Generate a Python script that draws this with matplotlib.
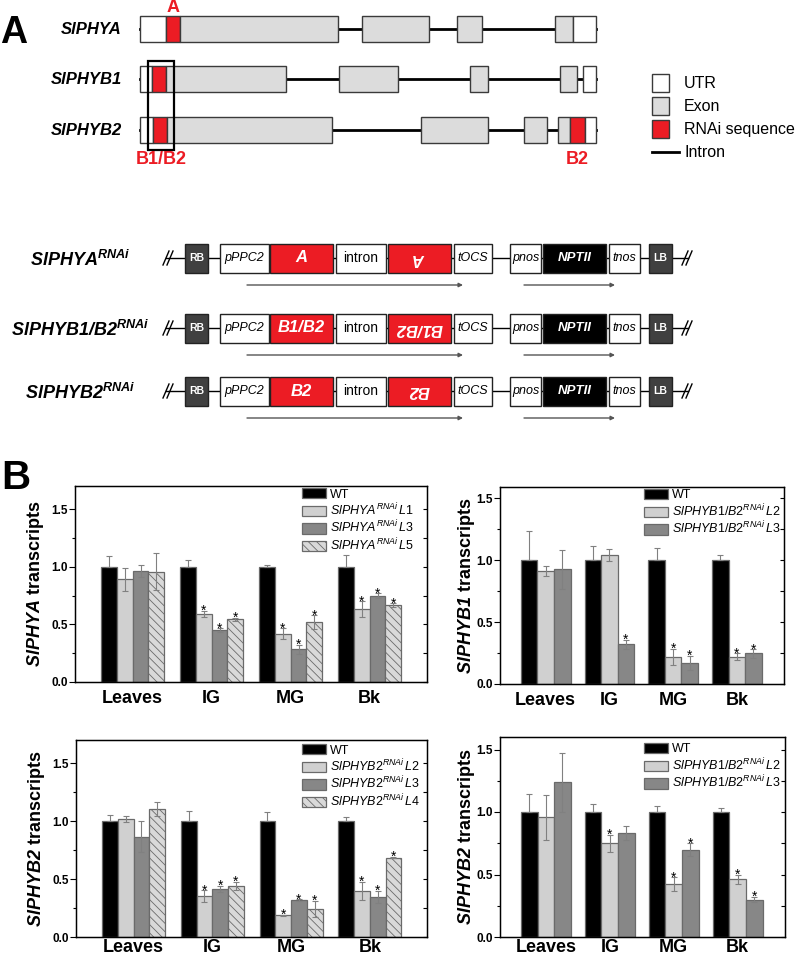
import numpy as np
import matplotlib
matplotlib.use("Agg")
import matplotlib.pyplot as plt
from matplotlib.patches import Rectangle
from matplotlib.ticker import MultipleLocator, FormatStrFormatter

plt.rcParams['font.family'] = ['Liberation Sans', 'DejaVu Sans']
plt.rcParams['mathtext.fontset'] = 'custom'
plt.rcParams['mathtext.rm'] = 'Liberation Sans'
plt.rcParams['mathtext.it'] = 'Liberation Sans:italic'
plt.rcParams['mathtext.bf'] = 'Liberation Sans:bold'
plt.rcParams['mathtext.bfit'] = 'Liberation Sans:italic:bold'
plt.rcParams['hatch.linewidth'] = 0.6

RED = '#ec1c24'
EDGE = '#6a6a6a'
ERR = '#808080'

# ---------------- panel A: gene structures (pixel layout) ----------------
genes = ['SlPHYA', 'SlPHYB1', 'SlPHYB2']
gene_y = [29, 79, 130]
gene_segments = [
    [(140, 166, 'utr'), (166, 180, 'rnai'), (180, 338, 'exon'), (362, 429, 'exon'),
     (457, 482, 'exon'), (555, 573, 'exon'), (573, 596, 'utr')],
    [(140, 152, 'utr'), (152, 166, 'rnai'), (166, 286, 'exon'), (339, 398, 'exon'),
     (470, 488, 'exon'), (560, 577, 'exon'), (583, 596, 'utr')],
    [(140, 153, 'utr'), (153, 167, 'rnai'), (167, 332, 'exon'), (421, 488, 'exon'),
     (524, 547, 'exon'), (558, 570, 'exon'), (570, 585, 'rnai'), (585, 596, 'utr')],
]
seg_colors = {'utr': 'white', 'exon': '#dcdcdc', 'rnai': RED}
legendA = ['UTR', 'Exon', 'RNAi sequence', 'Intron']

constructs = [r'$\mathbfit{SlPHYA}^{\mathbfit{RNAi}}$',
              r'$\mathbfit{SlPHYB1/B2}^{\mathbfit{RNAi}}$',
              r'$\mathbfit{SlPHYB2}^{\mathbfit{RNAi}}$']
construct_y = [258, 328, 391]
inserts = ['A', 'B1/B2', 'B2']

# ---------------- panel B: qPCR data ----------------
tissues = ['Leaves', 'IG', 'MG', 'Bk']

phya_labels = ['WT', r'$\mathit{SlPHYA}^{RNAi}\mathit{\,L1}$',
               r'$\mathit{SlPHYA}^{RNAi}\mathit{\,L3}$', r'$\mathit{SlPHYA}^{RNAi}\mathit{\,L5}$']
phya_vals = [[1.0, 1.0, 1.0, 1.0],
             [0.89, 0.59, 0.42, 0.63],
             [0.965, 0.45, 0.285, 0.75],
             [0.955, 0.545, 0.52, 0.668]]
phya_err = [[0.09, 0.06, 0.017, 0.105],
            [0.10, 0.03, 0.045, 0.07],
            [0.05, 0.015, 0.04, 0.02],
            [0.16, 0.012, 0.06, 0.015]]
phya_sig = [[0, 0, 0, 0], [0, 1, 1, 1], [0, 1, 1, 1], [0, 1, 1, 1]]

phyb1_labels = ['WT', r'$\mathit{SlPHYB1/B2}^{RNAi}\mathit{\,L2}$',
                r'$\mathit{SlPHYB1/B2}^{RNAi}\mathit{\,L3}$']
phyb1_vals = [[1.0, 1.0, 1.0, 1.0],
              [0.91, 1.04, 0.22, 0.22],
              [0.925, 0.32, 0.17, 0.247]]
phyb1_err = [[0.234, 0.11, 0.10, 0.04],
             [0.04, 0.05, 0.065, 0.027],
             [0.16, 0.035, 0.06, 0.034]]
phyb1_sig = [[0, 0, 0, 0], [0, 0, 1, 1], [0, 1, 1, 1]]

phyb2_labels = ['WT', r'$\mathit{SlPHYB2}^{RNAi}\mathit{\,L2}$',
                r'$\mathit{SlPHYB2}^{RNAi}\mathit{\,L3}$', r'$\mathit{SlPHYB2}^{RNAi}\mathit{\,L4}$']
phyb2_vals = [[1.0, 1.0, 1.0, 1.0],
              [1.017, 0.352, 0.186, 0.395],
              [0.865, 0.413, 0.318, 0.344],
              [1.103, 0.441, 0.24, 0.685]]
phyb2_err = [[0.057, 0.086, 0.077, 0.034],
             [0.023, 0.05, 0.005, 0.08],
             [0.135, 0.027, 0.006, 0.052],
             [0.06, 0.033, 0.07, 0.005]]
phyb2_sig = [[0, 0, 0, 0], [0, 1, 1, 1], [0, 1, 1, 1], [0, 1, 1, 1]]

b1b2_labels = phyb1_labels
b1b2_vals = [[1.0, 1.0, 1.0, 1.0],
             [0.96, 0.75, 0.422, 0.462],
             [1.237, 0.83, 0.70, 0.30]]
b1b2_err = [[0.142, 0.065, 0.05, 0.032],
            [0.18, 0.066, 0.056, 0.035],
            [0.235, 0.056, 0.05, 0.02]]
b1b2_sig = [[0, 0, 0, 0], [0, 1, 1, 1], [0, 0, 1, 1]]

styles4 = [dict(fc='black'), dict(fc='#d0d0d0'), dict(fc='#878787'),
           dict(fc='#d9d9d9', hatch='\\\\\\\\')]

W, H = 800, 958
fig = plt.figure(figsize=(W / 100, H / 100), dpi=100)

# ================= panel A drawn in pixel coordinates =================
axA = fig.add_axes([0, 0, 1, 1])
axA.set_xlim(0, W)
axA.set_ylim(H, 0)
axA.axis('off')

axA.text(0, 33, 'A', fontsize=27, fontweight='bold', va='center', ha='left')
axA.text(1, 478, 'B', fontsize=29, fontweight='bold', va='center', ha='left')

bh = 26
for name, yc, segs in zip(genes, gene_y, gene_segments):
    axA.plot([140, 596], [yc, yc], color='black', lw=2, zorder=1)
    for x0, x1, kind in segs:
        axA.add_patch(Rectangle((x0, yc - bh / 2), x1 - x0, bh, fc=seg_colors[kind],
                                ec='#3a3a3a', lw=1, zorder=2))
    axA.text(122, yc, name, fontsize=12, fontweight='bold', style='italic',
             ha='right', va='center')

axA.add_patch(Rectangle((148, 61), 26, 89, fill=False, ec='black', lw=1.6, zorder=3))
axA.text(173, 7, 'A', color=RED, fontsize=13, fontweight='bold', ha='center', va='center')
axA.text(161, 159, 'B1/B2', color=RED, fontsize=13, fontweight='bold', ha='center', va='center')
axA.text(577, 159, 'B2', color=RED, fontsize=13, fontweight='bold', ha='center', va='center')

for i, (lab, kind) in enumerate(zip(legendA, ['utr', 'exon', 'rnai', None])):
    yc = 83 + i * 23
    if kind:
        axA.add_patch(Rectangle((652, yc - 9), 17, 18, fc=seg_colors[kind], ec='#3a3a3a', lw=1))
    else:
        axA.plot([652, 679], [yc, yc], color='black', lw=2)
    axA.text(684, yc, lab, fontsize=11.5, ha='left', va='center')

# constructs
bw = 29
for name, yc, ins in zip(constructs, construct_y, inserts):
    axA.text(80, yc + 8, name, fontsize=13, ha='center', va='baseline')
    axA.plot([166, 688], [yc, yc], color='black', lw=1, zorder=1)
    for xs in (163, 682):
        for dx in (0, 4):
            axA.plot([xs + dx, xs + dx + 6], [yc + 7, yc - 7], color='black', lw=1, zorder=1)
    parts = [(185, 208, 'RB', '#404040', 'white', 'bold', 'normal', 0, 7.5),
             (220, 269, 'pPPC2', 'white', 'black', 'normal', 'italic', 0, 9),
             (270, 333, ins, RED, 'white', 'bold', 'italic', 0, 12),
             (336, 386, 'intron', 'white', 'black', 'normal', 'normal', 0, 10),
             (388, 451, ins, RED, 'white', 'bold', 'italic', 180, 12),
             (454, 492, 'tOCS', 'white', 'black', 'normal', 'italic', 0, 9),
             (510, 541, 'pnos', 'white', 'black', 'normal', 'italic', 0, 9),
             (543, 606, 'NPTII', 'black', 'white', 'bold', 'italic', 0, 9.5),
             (609, 640, 'tnos', 'white', 'black', 'normal', 'italic', 0, 9),
             (649, 672, 'LB', '#404040', 'white', 'bold', 'normal', 0, 7.5)]
    for x0, x1, txt, fc, tc, fw, fs, rot, size in parts:
        axA.add_patch(Rectangle((x0, yc - bw / 2), x1 - x0, bw, fc=fc, ec='#222222', lw=1, zorder=2))
        axA.text((x0 + x1) / 2, yc, txt, color=tc, fontweight=fw, style=fs, rotation=rot,
                 fontsize=size, ha='center', va='center', zorder=3)
    for xa, xb in ((247, 463), (524, 615)):
        axA.annotate('', xy=(xb, yc + 27), xytext=(xa, yc + 27),
                     arrowprops=dict(arrowstyle='-|>', color='#555555', lw=1, mutation_scale=6,
                                     shrinkA=0, shrinkB=0))


# ================= panel B bar charts =================
def bar_panel(px, vals, errs, sigs, labels, ylim, xlim, width, ylabel, leg_px, lab_x, xpad):
    left, right, top, bottom = px
    ax = fig.add_axes([left / W, 1 - bottom / H, (right - left) / W, (bottom - top) / H])
    x = np.arange(len(tissues))
    n = len(vals)
    for i in range(n):
        pos = x + (i - (n - 1) / 2) * width
        st = styles4[i]
        ax.bar(pos, vals[i], width, color=st['fc'], edgecolor=EDGE, hatch=st.get('hatch'),
               linewidth=0.9, label=labels[i], zorder=2)
        e = np.array(errs[i])
        yerr = [np.zeros_like(e), e] if i == 0 else e
        ax.errorbar(pos, vals[i], yerr=yerr, fmt='none', ecolor=ERR, elinewidth=0.8,
                    capsize=2.5, capthick=0.8, zorder=3)
        for p, v, ee, s in zip(pos, vals[i], e, sigs[i]):
            if s:
                ax.annotate('*', (p, v + ee), xytext=(0, -3), textcoords='offset points',
                            ha='center', va='baseline', fontsize=10, zorder=4)
    ax.set_xlim(xlim)
    ax.set_ylim(ylim)
    ax.set_xticks(x)
    ax.set_xticklabels(tissues, fontsize=13, fontweight='bold')
    ax.tick_params(axis='x', length=0, pad=xpad)
    ax.yaxis.set_major_locator(MultipleLocator(0.5))
    ax.yaxis.set_minor_locator(MultipleLocator(0.25))
    ax.yaxis.set_major_formatter(FormatStrFormatter('%.1f'))
    ax.tick_params(axis='y', which='major', direction='out', length=4, width=0.8, labelsize=8.5, pad=1)
    ax.tick_params(axis='y', which='minor', direction='out', length=2, width=0.8)
    for lab in ax.get_yticklabels():
        lab.set_fontweight('bold')
    for sp in ax.spines.values():
        sp.set_linewidth(1)
    ax.set_ylabel(ylabel, fontsize=13, fontweight='bold')
    ax.yaxis.set_label_coords(lab_x, 0.5)
    ax2 = ax.twinx()
    ax2.set_ylim(ylim)
    ax2.yaxis.set_major_locator(MultipleLocator(0.25))
    ax2.tick_params(axis='y', direction='in', length=3, width=0.8, labelright=False)
    ax.legend(loc='upper left', bbox_to_anchor=(leg_px[0] / W, 1 - leg_px[1] / H),
              bbox_transform=fig.transFigure, frameon=False, fontsize=9,
              handlelength=1.95, handleheight=0.9, handletextpad=0.3,
              labelspacing=0.08, borderpad=0, borderaxespad=0)
    return ax


bar_panel((75, 427, 486, 682), phya_vals, phya_err, phya_sig, phya_labels,
          (0, 1.7), (-0.73, 3.726), 0.2, r'$\mathbfit{SlPHYA}$ transcripts', (302, 488), -0.082, 6)
bar_panel((500, 784, 487, 684), phyb1_vals, phyb1_err, phyb1_sig, phyb1_labels,
          (0, 1.59), (-0.717, 3.74), 0.26, r'$\mathbfit{SlPHYB1}$ transcripts', (644, 489), -0.08, 6)
bar_panel((76, 427, 740, 937), phyb2_vals, phyb2_err, phyb2_sig, phyb2_labels,
          (0, 1.7), (-0.73, 3.726), 0.2, r'$\mathbfit{SlPHYB2}$ transcripts', (302, 744), -0.082, 1.5)
bar_panel((500, 785, 737, 937), b1b2_vals, b1b2_err, b1b2_sig, b1b2_labels,
          (0, 1.6), (-0.717, 3.74), 0.26, r'$\mathbfit{SlPHYB2}$ transcripts', (644, 743), -0.08, 1.5)

fig.savefig('out.png', dpi=100)
